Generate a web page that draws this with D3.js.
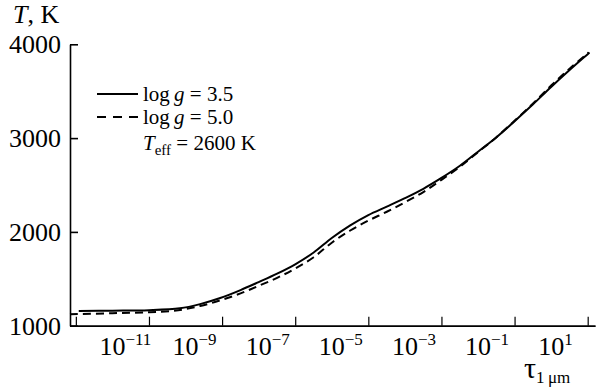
<!DOCTYPE html>
<html>
<head>
<meta charset="utf-8">
<script src="https://cdn.jsdelivr.net/npm/d3@7"></script>
<style>
  body { margin: 0; background: #fff; }
  svg { display: block; }
</style>
</head>
<body>
<svg id="chart" width="596" height="390"></svg>
<script>
// ---- data ----
const tauSolid = [1.2e-12, 1e-11, 1e-10, 7e-10, 2.5e-9, 8.9e-9, 3.2e-8, 1e-7, 3.2e-7, 1e-6, 3.2e-6, 1e-5, 3.2e-5, 1e-4, 3.2e-4, 1e-3, 3.2e-3, 1e-2, 3.2e-2, 0.1, 0.32, 1, 3.2, 10, 32, 100, 112];
const tempSolid = [1157, 1160, 1165, 1185, 1230, 1295, 1380, 1465, 1555, 1655, 1780, 1935, 2070, 2180, 2270, 2360, 2460, 2575, 2705, 2855, 3010, 3180, 3360, 3545, 3725, 3895, 3912];

const tauDashed = [6.9e-13, 1e-11, 1e-10, 6.3e-10, 2.5e-9, 8.9e-9, 3.2e-8, 1e-7, 3.2e-7, 1e-6, 3.2e-6, 1e-5, 3.2e-5, 1e-4, 3.2e-4, 1e-3, 3.2e-3, 1e-2, 3.2e-2, 0.1, 0.32, 1, 3.2, 10, 32, 100, 105];
const tempDashed = [1122, 1133, 1143, 1165, 1210, 1270, 1345, 1425, 1510, 1610, 1730, 1885, 2015, 2120, 2215, 2315, 2425, 2555, 2695, 2850, 3010, 3185, 3370, 3560, 3740, 3905, 3915];

const yTicks = [1000, 2000, 3000, 4000];
const xLabelExponents = [-11, -9, -7, -5, -3, -1, 1];
const legendLabels = ["3.5", "5.0"];

// ---- layout ----
const FONT = "Liberation Serif, Times New Roman, serif";
const svg = d3.select("#chart");
const x = d3.scaleLog().domain([Math.pow(10, -12.16), Math.pow(10, 2.2)]).range([70, 595]);
const y = d3.scaleLinear().domain([1000, 4000]).range([325.7, 44.3]);

// Y axis (ticks pointing inward)
const yAxis = d3.axisLeft(y).tickValues(yTicks).tickSizeInner(-8).tickSizeOuter(0).tickPadding(9).tickFormat(d3.format("d"));
const gy = svg.append("g").attr("transform", "translate(70,0)").call(yAxis);
gy.attr("font-family", FONT).attr("font-size", 26);
gy.selectAll("text").attr("fill", "#000");
gy.selectAll("path, line").attr("stroke", "#000").attr("stroke-width", 1.6);

// X axis: minor and major ticks pointing inward
const allTicks = x.ticks();
const majorTicks = allTicks.filter(d => Math.abs(Math.log10(d) - Math.round(Math.log10(d))) < 1e-9);
const minorTicks = allTicks.filter(d => !majorTicks.includes(d));
const gxMinor = svg.append("g").attr("transform", `translate(0,${y(1000)})`)
  .call(d3.axisBottom(x).tickValues(minorTicks).tickSizeInner(-5).tickSizeOuter(0).tickFormat(""));
const gxMajor = svg.append("g").attr("transform", `translate(0,${y(1000)})`)
  .call(d3.axisBottom(x).tickValues(majorTicks).tickSizeInner(-9).tickSizeOuter(0).tickFormat(""));
[gxMinor, gxMajor].forEach(g => g.selectAll("path, line").attr("stroke", "#000").attr("stroke-width", 1.2));
gxMajor.select("path").attr("stroke-width", 1.6);

function txt(sel) { return sel.append("text").attr("font-family", FONT).attr("fill", "#000"); }

// X tick labels 10^n
xLabelExponents.forEach(e => {
  const t = txt(svg).attr("x", x(Math.pow(10, e)) - 13).attr("y", 355).attr("font-size", 26);
  t.append("tspan").text("10");
  t.append("tspan").attr("dy", -10).attr("font-size", 17).text((e < 0 ? "\u2212" : "") + Math.abs(e));
});

// Axis titles
const ty = txt(svg).attr("x", 13).attr("y", 23).attr("font-size", 26);
ty.append("tspan").attr("font-style", "italic").text("T");
ty.append("tspan").text(", K");

const tx = txt(svg).attr("x", 524).attr("y", 378).attr("font-size", 30);
tx.append("tspan").text("τ");
tx.append("tspan").attr("dy", 5).attr("font-size", 17).text("1\u2009μm");

// Curves
const line = d3.line().x(d => x(d[0])).y(d => y(d[1])).curve(d3.curveCatmullRom.alpha(0.5));
svg.append("path").datum(d3.zip(tauSolid, tempSolid)).attr("d", line)
  .attr("fill", "none").attr("stroke", "#000").attr("stroke-width", 2);
svg.append("path").datum(d3.zip(tauDashed, tempDashed)).attr("d", line)
  .attr("fill", "none").attr("stroke", "#000").attr("stroke-width", 2).attr("stroke-dasharray", "8,5");

// Legend
const legY = [94, 117];
legendLabels.forEach((lab, i) => {
  svg.append("line").attr("x1", 97).attr("x2", 138).attr("y1", legY[i]).attr("y2", legY[i])
    .attr("stroke", "#000").attr("stroke-width", 2).attr("stroke-dasharray", i === 0 ? null : "9,7");
  const t = txt(svg).attr("x", 143).attr("y", legY[i] + 7).attr("font-size", 21);
  t.append("tspan").text("log\u2009");
  t.append("tspan").attr("font-style", "italic").text("g");
  t.append("tspan").text(" = " + lab);
});
const teff = txt(svg).attr("x", 143).attr("y", 150).attr("font-size", 21);
teff.append("tspan").attr("font-style", "italic").text("T");
teff.append("tspan").attr("dy", 5).attr("font-size", 15).text("eff");
teff.append("tspan").attr("dy", -5).text(" = 2600 K");
</script>
</body>
</html>
